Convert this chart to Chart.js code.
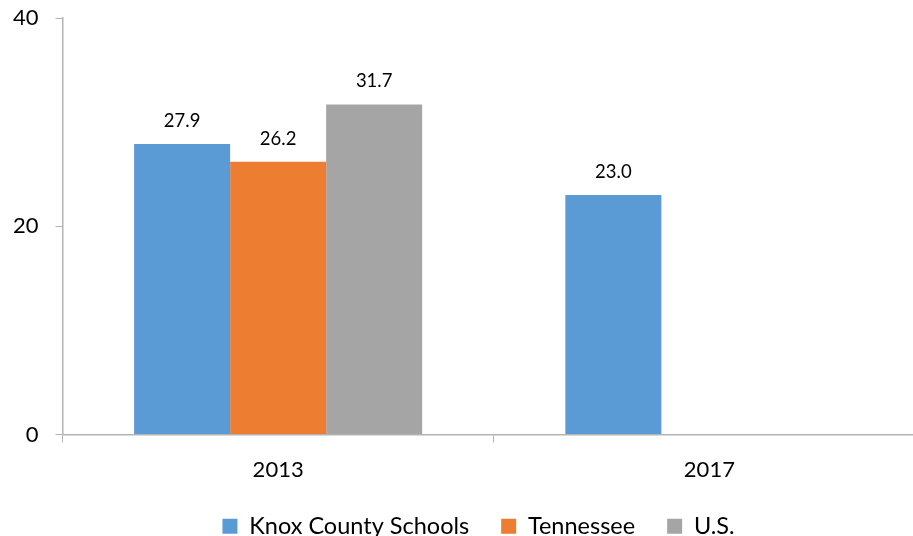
<!DOCTYPE html>
<html>
<head>
<meta charset="utf-8">
<script src="https://cdn.jsdelivr.net/npm/chart.js@4/dist/chart.umd.min.js"></script>
<style>
html,body{margin:0;padding:0;background:#fff;}
#wrap{width:913px;height:536px;position:relative;}
</style>
</head>
<body>
<div id="wrap"><canvas id="c" width="913" height="536"></canvas></div>
<script>
const categories = ["2013", "2017"];
const knoxValues = [27.9, 23.0];
const tennesseeValues = [26.2, null];
const usValues = [31.7, null];
const seriesNames = ["Knox County Schools", "Tennessee", "U.S."];
const yTicks = [0, 20, 40];

const FONT = "Lato, 'Open Sans', sans-serif";
const EXTEND_RIGHT = 12;
const LEGEND_SHIFT = 24;

const labelPlugin = {
  id: 'barLabels',
  afterDatasetsDraw(chart) {
    const ctx = chart.ctx;
    ctx.save();
    ctx.font = "18.5px " + FONT;
    ctx.fillStyle = "#000";
    ctx.textAlign = "center";
    ctx.textBaseline = "alphabetic";
    chart.data.datasets.forEach((ds, di) => {
      const meta = chart.getDatasetMeta(di);
      meta.data.forEach((bar, i) => {
        const v = ds.data[i];
        if (v === null || v === undefined) return;
        ctx.fillText(v.toFixed(1), bar.x, bar.y - 17);
      });
    });
    ctx.restore();
  }
};

// The original plot area runs slightly past the right edge of the picture,
// and its legend is centred a little right of the canvas centre.
const extendPlugin = {
  id: 'extendRight',
  afterLayout(chart) {
    const s = chart.scales.x;
    s.right += EXTEND_RIGHT;
    s.width += EXTEND_RIGHT;
    s.configure();
    chart.chartArea.right += EXTEND_RIGHT;
    chart.chartArea.width += EXTEND_RIGHT;
    if (chart.legend) {
      chart.legend.left += LEGEND_SHIFT;
      chart.legend.right += LEGEND_SHIFT;
    }
  }
};

new Chart(document.getElementById('c'), {
  type: 'bar',
  data: {
    labels: categories,
    datasets: [
      { label: seriesNames[0], data: knoxValues, backgroundColor: '#5B9BD5' },
      { label: seriesNames[1], data: tennesseeValues, backgroundColor: '#ED7D31' },
      { label: seriesNames[2], data: usValues, backgroundColor: '#A5A5A5' }
    ]
  },
  options: {
    responsive: false,
    animation: false,
    devicePixelRatio: 1,
    categoryPercentage: 0.668,
    barPercentage: 1,
    layout: { padding: { top: 0, left: -4, right: 0, bottom: -12 } },
    plugins: {
      legend: {
        position: 'bottom',
        labels: {
          font: { family: FONT, size: 23.5 },
          color: '#000',
          boxWidth: 15,
          boxHeight: 15,
          padding: 32
        }
      },
      tooltip: { enabled: false }
    },
    scales: {
      x: {
        grid: { display: true, drawOnChartArea: false, drawTicks: true, tickLength: 8, color: '#b3b3b3', offset: true },
        border: { color: '#b3b3b3', width: 1.5 },
        ticks: { font: { family: FONT, size: 22 }, color: '#000', padding: 14 },
        afterFit(scale) { scale.height = 48; scale.paddingRight = 0; scale.paddingLeft = 0; }
      },
      y: {
        min: 0,
        max: 40,
        afterBuildTicks(axis) { axis.ticks = yTicks.map(v => ({ value: v })); },
        grid: { display: true, drawOnChartArea: false, drawTicks: true, tickLength: 7, color: '#b3b3b3' },
        border: { color: '#b3b3b3', width: 1.5 },
        ticks: { font: { family: FONT, size: 22 }, color: '#000', padding: 17 },
        afterFit(scale) { scale.paddingTop = 18; scale.paddingBottom = 0; }
      }
    }
  },
  plugins: [labelPlugin, extendPlugin]
});
</script>
</body>
</html>
